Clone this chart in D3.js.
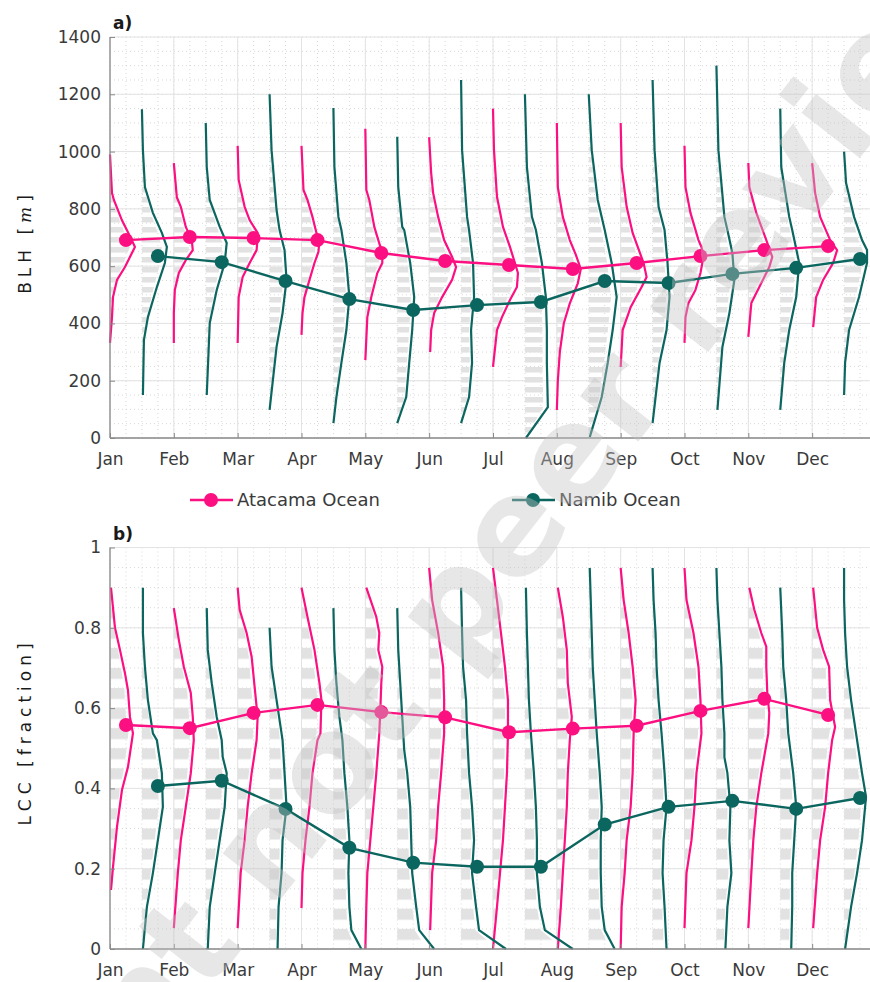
<!DOCTYPE html>
<html>
<head>
<meta charset="utf-8">
<script src="https://cdn.jsdelivr.net/npm/d3@7/dist/d3.min.js"></script>
<style>
  body { margin: 0; background: #fff; }
  svg { display: block; }
  text { font-family: "DejaVu Sans", sans-serif; }
</style>
</head>
<body>
<div id="chart"></div>
<script>
// months on the x axis
var months = ['Jan','Feb','Mar','Apr','May','Jun','Jul','Aug','Sep','Oct','Nov','Dec'];

// monthly means (dots)
var blhAtacama = [691, 702, 698, 691, 646, 618, 604, 590, 611, 635, 656, 670];
var blhNamib   = [635, 614, 548, 485, 447, 464, 475, 548, 541, 573, 594, 625];
var lccAtacama = [0.558, 0.55, 0.588, 0.608, 0.59, 0.577, 0.54, 0.549, 0.556, 0.593, 0.623, 0.583];
var lccNamib   = [0.406, 0.419, 0.349, 0.252, 0.215, 0.205, 0.205, 0.31, 0.354, 0.369, 0.349, 0.376];

// profiles per month: [value, density]  (top to bottom)
var blhAtacamaProf = [
  [[990,0],[855,2],[830,4],[760,12],[725,17],[690,22],[667,25],[632,20],[597,15],[552,7],[492,3],[422,2],[332,0]],
  [[960,0],[841,3],[807,7],[737,12],[691,18],[656,19],[621,12],[576,5],[517,1],[436,0],[332,0]],
  [[1020,0],[901,1],[807,7],[761,12],[716,20],[702,20],[656,19],[611,12],[562,5],[492,1],[332,0]],
  [[1020,0],[866,2],[831,6],[772,11],[716,15],[691,18],[650,17],[611,13],[552,8],[492,3],[436,1],[360,0]],
  [[1080,0],[866,1],[831,4],[737,9],[691,13],[646,17],[611,17],[576,12],[492,6],[422,2],[272,0]],
  [[1050,0],[925,2],[855,4],[772,9],[691,15],[632,23],[597,27],[552,23],[492,13],[436,5],[377,2],[300,1]],
  [[1150,0],[1005,1],[842,4],[737,10],[667,17],[611,22],[576,25],[527,24],[482,17],[422,9],[377,4],[248,0]],
  [[1100,0],[876,1],[772,6],[691,13],[640,19],[590,24],[540,21],[470,13],[401,7],[300,3],[200,1],[98,0]],
  [[1100,0],[946,1],[807,6],[716,12],[611,23],[562,26],[527,21],[457,10],[377,2],[248,0]],
  [[1020,0],[876,1],[786,6],[691,14],[667,17],[632,19],[576,16],[517,11],[471,4],[422,1],[332,0]],
  [[960,0],[876,1],[786,8],[691,18],[632,24],[597,21],[527,11],[471,3],[353,0]],
  [[960,0],[855,3],[772,8],[691,18],[656,25],[611,21],[552,11],[492,4],[387,1]]
];
var blhNamibProf = [
  [[1148,0],[1005,1],[876,3],[786,11],[716,20],[667,25],[611,23],[527,15],[422,6],[342,2],[150,1]],
  [[1100,0],[946,1],[831,4],[737,14],[681,21],[611,19],[517,11],[401,4],[150,1]],
  [[1200,0],[1005,2],[796,7],[726,10],[656,15],[552,17],[436,13],[318,7],[98,0]],
  [[1152,0],[946,1],[772,5],[726,8],[611,13],[492,16],[377,13],[262,8],[143,3],[52,0]],
  [[1052,0],[876,1],[737,5],[726,7],[611,13],[492,17],[377,15],[262,12],[143,9],[52,0]],
  [[1250,0],[1005,1],[772,6],[726,8],[611,12],[492,13],[377,10],[262,11],[143,8],[52,0]],
  [[1200,0],[946,2],[772,7],[726,11],[611,17],[492,21],[377,22],[262,22],[108,23],[0,1]],
  [[1200,0],[1005,3],[831,9],[726,16],[611,23],[492,28],[377,24],[262,19],[143,13],[3,1]],
  [[1250,0],[1005,2],[807,6],[726,12],[611,15],[492,17],[377,14],[262,7],[143,3],[52,0]],
  [[1300,0],[1005,2],[772,8],[726,11],[646,16],[552,18],[436,13],[318,6],[98,1]],
  [[1150,0],[946,1],[772,9],[726,12],[611,19],[492,16],[377,9],[262,4],[98,0]],
  [[1000,0],[890,2],[772,10],[691,18],[656,23],[611,23],[492,15],[377,5],[262,1],[150,0]]
];
var lccAtacamaProf = [
  [[0.9,1],[0.8,5],[0.745,10],[0.687,15],[0.645,18],[0.578,20],[0.537,23],[0.52,22],[0.453,18],[0.396,12],[0.304,7],[0.204,3],[0.147,1]],
  [[0.849,0],[0.77,5],[0.703,10],[0.638,17],[0.578,19],[0.52,20],[0.438,17],[0.354,12],[0.271,7],[0.189,4],[0.052,0]],
  [[0.9,0],[0.845,2],[0.787,9],[0.728,14],[0.653,17],[0.578,20],[0.52,19],[0.438,14],[0.354,10],[0.271,7],[0.189,3],[0.052,0]],
  [[0.9,0],[0.827,6],[0.745,13],[0.662,18],[0.62,20],[0.537,19],[0.52,16],[0.438,11],[0.354,8],[0.271,4],[0.189,1],[0.102,0]],
  [[0.9,1],[0.827,11],[0.787,14],[0.745,13],[0.703,17],[0.662,16],[0.595,15],[0.537,14],[0.438,11],[0.354,8],[0.271,5],[0.189,2],[0.105,1],[0,0]],
  [[0.949,0],[0.869,3],[0.787,9],[0.703,14],[0.62,15],[0.537,15],[0.438,12],[0.354,9],[0.271,7],[0.189,3],[0.047,1]],
  [[0.949,0],[0.869,4],[0.787,8],[0.703,12],[0.62,15],[0.537,15],[0.438,14],[0.354,12],[0.271,10],[0.189,7],[0.105,4],[0,0]],
  [[0.9,1],[0.827,6],[0.745,10],[0.662,11],[0.578,15],[0.52,13],[0.438,11],[0.354,10],[0.271,8],[0.189,6],[0.105,4],[0,1]],
  [[0.949,0],[0.869,3],[0.787,8],[0.703,12],[0.62,15],[0.537,13],[0.438,12],[0.354,10],[0.271,6],[0.189,4],[0.105,1],[0,0]],
  [[0.949,0],[0.869,2],[0.787,9],[0.703,14],[0.62,16],[0.537,17],[0.438,12],[0.354,10],[0.271,7],[0.189,2],[0.052,0]],
  [[0.9,1],[0.845,6],[0.787,13],[0.753,18],[0.703,18],[0.638,19],[0.588,21],[0.537,20],[0.438,13],[0.354,8],[0.271,5],[0.189,3],[0.052,0]],
  [[0.9,1],[0.8,5],[0.745,11],[0.703,17],[0.62,18],[0.553,23],[0.52,20],[0.438,16],[0.354,13],[0.271,8],[0.189,5],[0.052,1]]
];
var lccNamibProf = [
  [[0.9,1],[0.787,1],[0.703,3],[0.62,6],[0.537,11],[0.52,15],[0.438,20],[0.354,21],[0.271,16],[0.189,11],[0.105,5],[0,1]],
  [[0.849,1],[0.745,2],[0.662,6],[0.578,11],[0.52,16],[0.478,17],[0.438,21],[0.354,19],[0.271,14],[0.189,9],[0.105,4],[0,2]],
  [[0.8,0],[0.703,2],[0.62,7],[0.537,12],[0.52,13],[0.438,15],[0.354,17],[0.271,13],[0.189,12],[0.105,9],[0,8]],
  [[0.849,0],[0.745,1],[0.662,3],[0.578,6],[0.52,9],[0.438,11],[0.354,14],[0.271,16],[0.189,15],[0.105,16],[0.047,18],[0,28]],
  [[0.849,0],[0.745,1],[0.662,3],[0.578,5],[0.495,7],[0.438,10],[0.354,13],[0.271,14],[0.189,15],[0.105,19],[0.047,22],[0,37]],
  [[0.9,0],[0.787,1],[0.703,2],[0.62,5],[0.537,6],[0.438,8],[0.354,11],[0.271,13],[0.189,11],[0.105,15],[0.047,18],[0,45]],
  [[0.9,1],[0.787,2],[0.703,3],[0.62,4],[0.537,6],[0.438,9],[0.354,11],[0.271,12],[0.189,12],[0.105,15],[0.047,20],[0,48]],
  [[0.949,1],[0.869,2],[0.787,3],[0.703,4],[0.62,6],[0.537,8],[0.438,11],[0.354,13],[0.271,12],[0.189,12],[0.105,13],[0.047,16],[0,26]],
  [[0.949,0],[0.869,1],[0.787,3],[0.703,4],[0.62,6],[0.537,9],[0.438,12],[0.354,14],[0.271,11],[0.189,10],[0.105,12],[0,14]],
  [[0.949,0],[0.869,1],[0.787,3],[0.703,5],[0.62,6],[0.537,8],[0.478,8],[0.438,11],[0.354,14],[0.271,13],[0.189,15],[0.105,11],[0,9]],
  [[0.9,0],[0.787,2],[0.703,3],[0.62,6],[0.537,8],[0.438,13],[0.354,16],[0.271,14],[0.189,12],[0.105,12],[0,11]],
  [[0.949,0],[0.869,0],[0.787,1],[0.703,3],[0.62,7],[0.537,12],[0.438,18],[0.379,22],[0.271,18],[0.189,13],[0.105,7],[0,1]]
];

var blhTicks = [0, 200, 400, 600, 800, 1000, 1200, 1400];
var lccTicks = [0, 0.2, 0.4, 0.6, 0.8, 1];

var width = 870, height = 982;
var pink = '#fc0f80', teal = '#0c6660';
var txtColor = '#3a3a3a';

var svg = d3.select('#chart').append('svg')
    .attr('width', width)
    .attr('height', height);

var defs = svg.append('defs');

// month axis: 0 = start of Jan ... 12 = end of Dec
var x = d3.scaleLinear().domain([0, 12]).range([110, 876]);
// density units -> fraction of a month
var dens = d3.scaleLinear().domain([0, 64]).range([0, 1]);

function drawPanel(p) {
    var y = d3.scaleLinear().domain(p.domain).range([p.bottom, p.top]);
    var g = svg.append('g');

    // stripes pattern for the background histograms
    var pat = defs.append('pattern')
        .attr('id', 'stripe' + p.id)
        .attr('patternUnits', 'userSpaceOnUse')
        .attr('width', 10).attr('height', p.stripe)
        .attr('y', p.top);
    pat.append('rect').attr('width', 10).attr('height', p.stripe * 0.55).attr('fill', '#e2e2e2');

    // minor grid (dotted)
    var minorY = d3.range(p.domain[0], p.domain[1] + 1e-9, p.minor);
    g.append('g').selectAll('line').data(minorY).enter().append('line')
        .attr('x1', x(0)).attr('x2', x(12))
        .attr('y1', d => y(d)).attr('y2', d => y(d))
        .attr('stroke', '#d8d8d8').attr('stroke-width', 1).attr('stroke-dasharray', '1,3');
    var minorX = d3.range(0, 12.01, 0.25);
    g.append('g').selectAll('line').data(minorX).enter().append('line')
        .attr('x1', d => x(d)).attr('x2', d => x(d))
        .attr('y1', p.top).attr('y2', p.bottom)
        .attr('stroke', '#d8d8d8').attr('stroke-width', 1).attr('stroke-dasharray', '1,3');

    // major grid
    g.append('g').selectAll('line').data(p.ticks).enter().append('line')
        .attr('x1', x(0)).attr('x2', x(12))
        .attr('y1', d => y(d)).attr('y2', d => y(d))
        .attr('stroke', '#e3e3e3').attr('stroke-width', 1);
    g.append('g').selectAll('line').data(d3.range(0, 13)).enter().append('line')
        .attr('x1', d => x(d)).attr('x2', d => x(d))
        .attr('y1', p.top).attr('y2', p.bottom)
        .attr('stroke', '#e3e3e3').attr('stroke-width', 1);

    var series = [
        {prof: p.pinkProf, base: 0, color: pink},
        {prof: p.tealProf, base: 0.5, color: teal}
    ];

    // background histograms
    series.forEach(function(s) {
        s.prof.forEach(function(prof, m) {
            var b = m + s.base;
            var ar = d3.area()
                .y(d => y(d[0]))
                .x0(x(b))
                .x1(d => x(b + dens(d[1]) * 0.8));
            g.append('path')
                .attr('d', ar(prof))
                .attr('fill', 'url(#stripe' + p.id + ')');
        });
    });

    // profile curves
    series.forEach(function(s) {
        s.prof.forEach(function(prof, m) {
            var b = m + s.base;
            var line = d3.line()
                .x(d => x(b + dens(d[1])))
                .y(d => y(d[0]));
            g.append('path')
                .attr('d', line(prof))
                .attr('fill', 'none')
                .attr('stroke', s.color)
                .attr('stroke-width', 2.2);
        });
    });

    // axes
    var yAxis = d3.axisLeft(y).tickValues(p.ticks).tickSize(-5).tickPadding(9)
        .tickFormat(d3.format('~g'));
    var ya = g.append('g').attr('transform', 'translate(' + x(0) + ',0)').call(yAxis);
    var xAxis = d3.axisBottom(x).tickValues(d3.range(0, 12)).tickSize(-5).tickPadding(15)
        .tickFormat(d => months[d]);
    var xa = g.append('g').attr('transform', 'translate(0,' + p.bottom + ')').call(xAxis);
    [ya, xa].forEach(function(a) {
        a.select('.domain').attr('stroke', '#8a8a8a').attr('stroke-width', 1.3);
        a.selectAll('.tick line').attr('stroke', '#8a8a8a');
        a.selectAll('.tick text').attr('fill', txtColor)
            .style('font-size', '17px').style('font-family', '"DejaVu Sans", sans-serif');
    });
    xa.select('.domain').attr('d', 'M' + x(0) + ',0H' + x(12));
    ya.select('.domain').attr('d', 'M0,' + p.bottom + 'V' + p.top);

    // mean lines with dots
    var means = [
        {vals: p.pinkMean, off: 0.25, color: pink},
        {vals: p.tealMean, off: 0.75, color: teal}
    ];
    means.forEach(function(s) {
        var line = d3.line().x((d, i) => x(i + s.off)).y(d => y(d));
        g.append('path').attr('d', line(s.vals))
            .attr('fill', 'none').attr('stroke', s.color).attr('stroke-width', 2.4);
        g.append('g').selectAll('circle').data(s.vals).enter().append('circle')
            .attr('cx', (d, i) => x(i + s.off)).attr('cy', d => y(d))
            .attr('r', 7).attr('fill', s.color);
    });

    // panel letter
    g.append('text').attr('x', 113).attr('y', p.top - 8)
        .attr('font-weight', 'bold').attr('font-size', 17).attr('fill', '#1a1a1a')
        .text(p.letter);

    // y label
    var lab = g.append('text')
        .attr('transform', 'translate(31,' + p.labelY + ') rotate(-90)')
        .attr('text-anchor', 'middle')
        .attr('font-size', 17).attr('fill', '#1a1a1a')
        .style('letter-spacing', '5px');
    lab.append('tspan').text(p.label);
    lab.append('tspan').text(' [');
    var u = lab.append('tspan').text(p.unit);
    if (p.unitItalic) u.attr('font-family', '"DejaVu Serif", serif').attr('font-style', 'italic');
    lab.append('tspan').text(']');
}

drawPanel({
    id: 'a', top: 37, bottom: 438, domain: [0, 1400], ticks: blhTicks, minor: 50,
    stripe: 10, letter: 'a)', label: 'BLH ', unit: 'm', unitItalic: true, labelY: 242,
    pinkProf: blhAtacamaProf, tealProf: blhNamibProf,
    pinkMean: blhAtacama, tealMean: blhNamib
});
drawPanel({
    id: 'b', top: 547.5, bottom: 949, domain: [0, 1], ticks: lccTicks, minor: 0.05,
    stripe: 20.07, letter: 'b)', label: 'LCC ', unit: 'fraction', unitItalic: false, labelY: 732,
    pinkProf: lccAtacamaProf, tealProf: lccNamibProf,
    pinkMean: lccAtacama, tealMean: lccNamib
});

// legend
var legend = svg.append('g');
[{name: 'Atacama Ocean', color: pink, x0: 190}, {name: 'Namib Ocean', color: teal, x0: 512}]
.forEach(function(l) {
    legend.append('line').attr('x1', l.x0).attr('x2', l.x0 + 43)
        .attr('y1', 500).attr('y2', 500)
        .attr('stroke', l.color).attr('stroke-width', 2.4);
    legend.append('circle').attr('cx', l.x0 + 21).attr('cy', 500).attr('r', 7).attr('fill', l.color);
    legend.append('text').attr('x', l.x0 + 47).attr('y', 506)
        .attr('font-size', 18).attr('fill', txtColor).text(l.name);
});

// watermark
svg.append('text')
    .attr('transform', 'translate(-141,1439) rotate(-52)')
    .attr('font-size', 135).attr('font-weight', 'bold')
    .attr('fill', '#c4c4c4').attr('opacity', 0.4)
    .text('Preprint not peer reviewed');
</script>
</body>
</html>
